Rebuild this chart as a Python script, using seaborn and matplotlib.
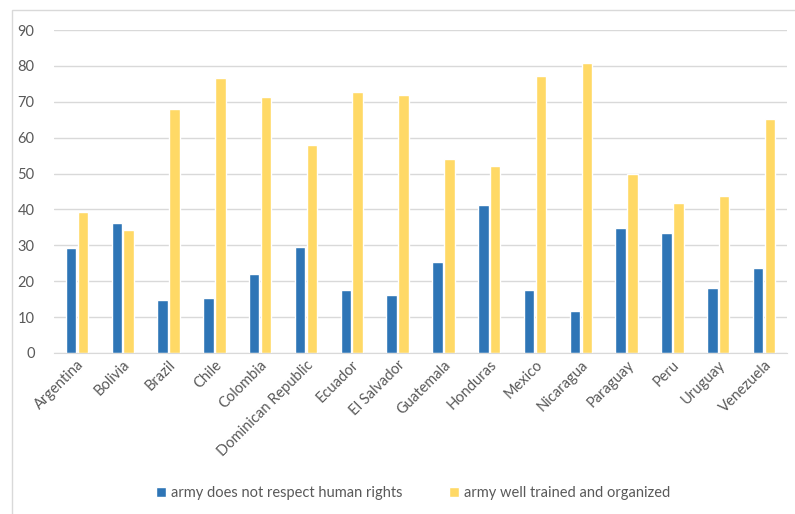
import pandas as pd
import numpy as np
import matplotlib.pyplot as plt
import matplotlib.patches as mpatches
import seaborn as sns

countries = ['Argentina', 'Bolivia', 'Brazil', 'Chile', 'Colombia', 'Dominican Republic',
             'Ecuador', 'El Salvador', 'Guatemala', 'Honduras', 'Mexico', 'Nicaragua',
             'Paraguay', 'Peru', 'Uruguay', 'Venezuela']
no_respect = [29.2, 36.1, 14.8, 15.2, 21.9, 29.4, 17.5, 16.1,
              25.3, 41.1, 17.6, 11.7, 34.9, 33.3, 18.0, 23.8]
well_trained = [39.4, 34.4, 67.9, 76.7, 71.2, 57.9, 72.6, 71.9,
                54.1, 52.2, 77.2, 80.7, 49.8, 41.9, 43.7, 65.1]
series = ['army does not respect human rights', 'army well trained and organized']

sns.set_style('white')
plt.rcParams['font.family'] = ['Lato', 'DejaVu Sans']

df = pd.DataFrame({'country': countries * 2,
                   'value': no_respect + well_trained,
                   'series': [series[0]] * len(countries) + [series[1]] * len(countries)})

fig = plt.figure(figsize=(7.95, 5.14), dpi=100)
# outer chart frame
fig.patches.append(mpatches.Rectangle((12 / 795, -0.1), 1.1, 1 - 10 / 514 + 0.1,
                                      transform=fig.transFigure, fill=False,
                                      edgecolor='#d9d9d9', linewidth=1))
ax = fig.add_axes([54 / 795, 1 - 353 / 514, (787 - 54) / 795, (353 - 30) / 514])

sns.barplot(data=df, x='country', y='value', hue='series',
            palette=['#2e75b6', '#ffd966'], width=0.52, gap=0.12,
            ax=ax, saturation=1)

ax.set_ylim(0, 90)
ax.set_yticks(range(0, 91, 10))
ax.yaxis.grid(True, color='#d9d9d9', linewidth=1)
ax.set_axisbelow(True)
for s in ['top', 'right', 'left']:
    ax.spines[s].set_visible(False)
ax.spines['bottom'].set_color('#d9d9d9')
ax.set_xlabel('')
ax.set_ylabel('')
ax.tick_params(axis='both', length=0, colors='#595959', labelsize=10.5)
ax.tick_params(axis='y', pad=14)
plt.setp(ax.get_xticklabels(), rotation=45, ha='right', rotation_mode='anchor')

handles, labels = ax.get_legend_handles_labels()
ax.legend_.remove()
fig.legend(handles, labels, loc='center', bbox_to_anchor=(413 / 795, 1 - 493 / 514),
           ncol=2, frameon=False, fontsize=10.5, handlelength=0.7, handleheight=0.7,
           handletextpad=0.3, columnspacing=3.2, labelcolor='#595959')

fig.savefig('out.png', dpi=100)
